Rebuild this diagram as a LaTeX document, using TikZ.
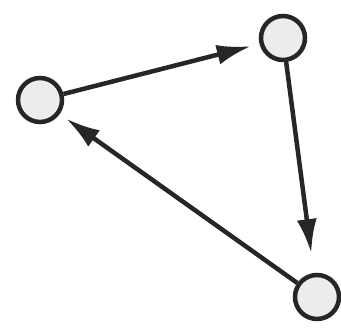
\documentclass[tikz,border=0pt]{standalone}
\usepackage{tikz}
\usetikzlibrary{arrows.meta}
\tikzset{
  state/.style={circle, draw=black!85, line width=4.5pt, fill=gray!15, minimum size=44pt, inner sep=0pt},
  link/.style={-{Latex[length=34pt,width=20pt]}, line width=4.5pt, draw=black!85},
}

\begin{document}
\begin{tikzpicture}[x=1pt,y=-1pt]
  \useasboundingbox (0,0) rectangle (341,328);
  \node[state] (left) at (40,100) {};
  \node[state] (top) at (283,38) {};
  \node[state] (bottom) at (317,297) {};
  \draw[link, shorten >=9pt] (left) -- (top);
  \draw[link, shorten >=20pt] (top) -- (bottom);
  \draw[link, shorten >=8pt] (bottom) -- (left);
\end{tikzpicture}
\end{document}
